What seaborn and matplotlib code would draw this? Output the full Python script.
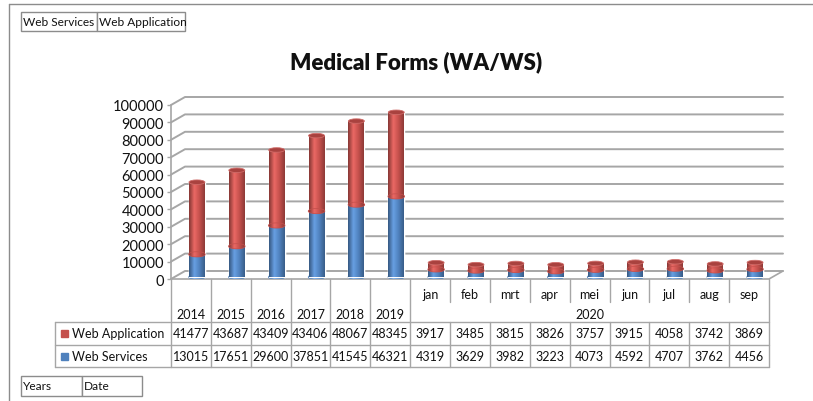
import numpy as np
import pandas as pd
import seaborn as sns
import matplotlib.pyplot as plt
import matplotlib.colors as mc
from matplotlib.patches import Rectangle, Ellipse
from matplotlib.transforms import ScaledTranslation, blended_transform_factory
from matplotlib.colors import LinearSegmentedColormap

years = ["2014", "2015", "2016", "2017", "2018", "2019"]
months = ["jan", "feb", "mrt", "apr", "mei", "jun", "jul", "aug", "sep"]
month_year = "2020"
web_application = [41477, 43687, 43409, 43406, 48067, 48345,
                   3917, 3485, 3815, 3826, 3757, 3915, 4058, 3742, 3869]
web_services = [13015, 17651, 29600, 37851, 41545, 46321,
                4319, 3629, 3982, 3223, 4073, 4592, 4707, 3762, 4456]
y_ticks = list(range(0, 100001, 10000))

RED = "#C4504C"
BLUE = "#4F81BD"
GRID = "#A6A6A6"
BORDER = "#8C8C8C"

W, H = 813, 402


def fx(px):
    return px / W


def fy(py):
    return 1 - py / H


sns.set_theme(style="white")
plt.rcParams["font.family"] = ["Lato", "DejaVu Sans"]

df = pd.DataFrame({"period": years + months,
                   "ws": web_services, "wa": web_application})
df["total"] = df["ws"] + df["wa"]
n = len(df)

fig = plt.figure(figsize=(W / 100, H / 100), dpi=100)
ax = fig.add_axes([fx(171), fy(280), fx(769) - fx(171), fy(106) - fy(280)])

# stacked bars: full total in red, web services in blue on top of it
sns.barplot(data=df, x="period", y="total", color=RED, width=0.4,
            saturation=1, errorbar=None, ax=ax, zorder=2)
sns.barplot(data=df, x="period", y="ws", color=BLUE, width=0.4,
            saturation=1, errorbar=None, ax=ax, zorder=3)

# fake 3D: bars sit half way into the depth of the floor
shift = ax.transData + ScaledTranslation(0.06, 0.02, fig.dpi_scale_trans)
depth_x = 14 / (598 / n)          # 14 px in category units
depth_y = 8 / 174 * 100000        # 8 px in value units
cap_h = 4.5 / 174 * 100000
grad = np.linspace(0, 1, 64)[None, :]


def cyl_cmap(c):
    rgb = np.array(mc.to_rgb(c))
    return LinearSegmentedColormap.from_list(
        "", [rgb * 0.68, np.minimum(rgb * 1.12 + 0.06, 1), rgb, rgb * 0.72])


def shaded(patch, ext, cmap, z):
    patch.set_transform(shift)
    im = ax.imshow(grad, cmap=cmap, extent=ext, aspect="auto",
                   interpolation="bilinear", zorder=z)
    im.set_transform(shift)
    im.set_clip_path(patch)


red_bars = ax.patches[:n]
blue_bars = ax.patches[n:2 * n]
for p, cmap, z in [(b, cyl_cmap(RED), 2.1) for b in red_bars] + \
                  [(b, cyl_cmap(BLUE), 3.1) for b in blue_bars]:
    x0, w, y0, h = p.get_x(), p.get_width(), p.get_y(), p.get_height()
    shaded(p, [x0, x0 + w, y0, y0 + h], cmap, z)

for rb, bb in zip(red_bars, blue_bars):
    x0, w = bb.get_x(), bb.get_width()
    cx = x0 + w / 2
    top_ws = bb.get_height()
    top_all = rb.get_height()
    # rounded bottom of the blue cylinder
    e = Ellipse((cx, 0), w, cap_h, color=BLUE, zorder=2.9)
    ax.add_patch(e)
    shaded(e, [x0, x0 + w, -cap_h, cap_h], cyl_cmap(BLUE), 2.95)
    # red segment curving down into the blue one
    e = Ellipse((cx, top_ws), w, cap_h, color=RED, zorder=3.2)
    ax.add_patch(e)
    shaded(e, [x0, x0 + w, top_ws - cap_h, top_ws + cap_h], cyl_cmap(RED), 3.25)
    # flat top of the red cylinder
    e = Ellipse((cx, top_all), w, cap_h, facecolor="#A9423F",
                edgecolor="#CF6B68", lw=0.6, zorder=3.4)
    ax.add_patch(e)
    e.set_transform(shift)

ax.set_xlim(-0.5, n - 0.5)
ax.set_ylim(0, 100000)
ax.set_xticks([])
ax.set_xlabel("")
ax.set_ylabel("")
ax.set_yticks(y_ticks)
ax.set_yticklabels([str(t) for t in y_ticks])
ax.tick_params(axis="y", left=True, length=3, width=1, pad=2,
               labelsize=10.5, color=GRID, labelcolor="#111111")
for s in ax.spines.values():
    s.set_visible(False)

# side wall + back wall gridlines
for t in y_ticks:
    ax.plot([-0.5, -0.5 + depth_x, n - 0.5 + depth_x],
            [t, t + depth_y, t + depth_y],
            color=GRID, lw=1.4, zorder=0.5, clip_on=False)
ax.plot([-0.5, -0.5], [0, 100000], color=GRID, lw=1.2, clip_on=False)
ax.plot([-0.5, n - 0.5, n - 0.5 + depth_x], [0, 0, depth_y],
        color=GRID, lw=1.2, clip_on=False)

# --- data table under the plot ---
tb = blended_transform_factory(ax.transData, fig.transFigure)
fs = 9
for i in range(n + 1):
    b = i - 0.5
    if 0 < i - len(years) < len(months):
        ax.plot([b, b], [fy(280), fy(303)], color=GRID, lw=1,
                transform=tb, clip_on=False)
        ax.plot([b, b], [fy(323), fy(368)], color=GRID, lw=1,
                transform=tb, clip_on=False)
    else:
        ax.plot([b, b], [fy(280), fy(368)], color=GRID, lw=1,
                transform=tb, clip_on=False)
for py in (323, 346, 368):
    fig.add_artist(plt.Line2D([fx(55), fx(769)], [fy(py), fy(py)],
                              color=GRID, lw=1))
fig.add_artist(plt.Line2D([fx(55), fx(55)], [fy(323), fy(368)],
                          color=GRID, lw=1))

for i, y in enumerate(years):
    ax.text(i, fy(315), y, transform=tb, ha="center", va="center",
            fontsize=fs, color="#111111")
for j, m in enumerate(months):
    ax.text(len(years) + j, fy(295), m, transform=tb, ha="center",
            va="center", fontsize=fs, color="#111111")
ax.text(len(years) + (len(months) - 1) / 2, fy(315), month_year,
        transform=tb, ha="center", va="center", fontsize=fs, color="#111111")

rows = [("Web Application", web_application, RED, 334.5),
        ("Web Services", web_services, BLUE, 357)]
for label, vals, col, py in rows:
    fig.add_artist(Rectangle((fx(61), fy(py + 3.5)), fx(7), fy(0) - fy(7),
                             transform=fig.transFigure, color=col))
    fig.text(fx(72), fy(py), label, ha="left", va="center", fontsize=fs,
             color="#111111")
    for i, v in enumerate(vals):
        ax.text(i, fy(py), str(v), transform=tb, ha="center", va="center",
                fontsize=fs, color="#111111")

# --- title, chart border and field buttons ---
fig.text(fx(416), fy(62), "Medical Forms (WA/WS)", fontsize=16,
         fontweight="heavy", ha="center", va="center", color="#111111")
fig.add_artist(plt.Line2D([fx(9), 1], [fy(5), fy(5)], color=BORDER, lw=1))
fig.add_artist(plt.Line2D([fx(9), fx(9)], [fy(5), 0], color=BORDER, lw=1))

buttons = [("Web Services", 21, 97, 13, 32), ("Web Application", 97, 185, 13, 32),
           ("Years", 21, 82, 377, 397), ("Date", 82, 142, 377, 397)]
for text, x0, x1, y0, y1 in buttons:
    fig.add_artist(Rectangle((fx(x0), fy(y1)), fx(x1) - fx(x0), fy(y0) - fy(y1),
                             transform=fig.transFigure, facecolor="white",
                             edgecolor=BORDER, lw=1))
    fig.text(fx(x0 + 1.5), fy((y0 + y1) / 2), text, ha="left", va="center",
             fontsize=8.6, color="#111111")

fig.savefig("out.png", dpi=100)
